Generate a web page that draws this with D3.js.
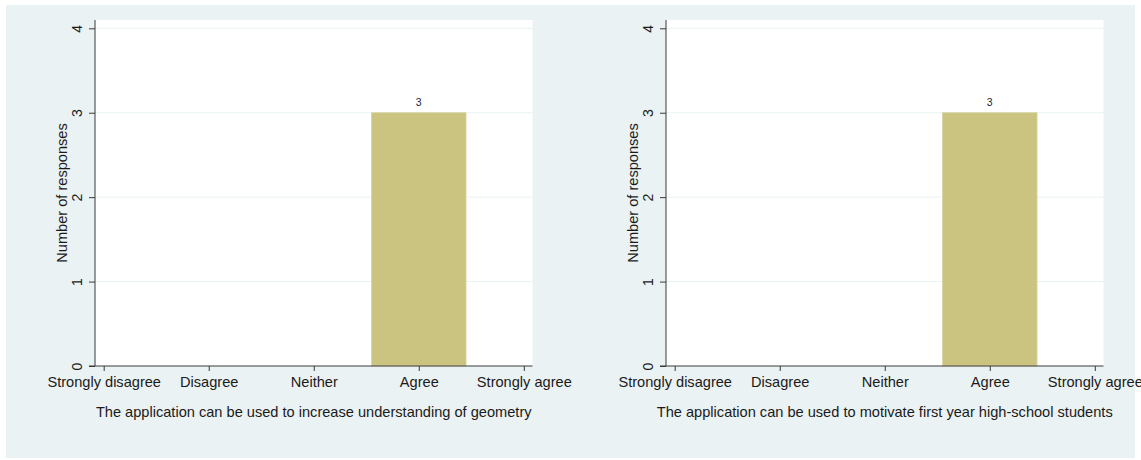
<!DOCTYPE html>
<html>
<head>
<meta charset="utf-8">
<script src="https://cdn.jsdelivr.net/npm/d3@7"></script>
<style>
  html, body { margin: 0; padding: 0; background: #ffffff; }
  svg { display: block; }
  text { font-family: "Liberation Sans", Arial, sans-serif; fill: #1a1a1a; }
</style>
</head>
<body>
<svg id="chart" width="1141" height="460"></svg>
<script>
// Likert categories, in axis order
const categories = ["Strongly disagree", "Disagree", "Neither", "Agree", "Strongly agree"];
const categoryCodes = [1, 2, 3, 4, 5];

// Number of responses per category for each statement
const countsGeometry = [0, 0, 0, 3, 0];
const countsMotivate = [0, 0, 0, 3, 0];

const statementTitles = [
  "The application can be used to increase understanding of geometry",
  "The application can be used to motivate first year high-school students"
];

const yTicks = [0, 1, 2, 3, 4];

const panels = [
  { left: 95, counts: countsGeometry, title: statementTitles[0] },
  { left: 666, counts: countsMotivate, title: statementTitles[1] }
];

const svg = d3.select("#chart");

// overall graph region
svg.append("rect")
  .attr("x", 6).attr("y", 5)
  .attr("width", 1129).attr("height", 453)
  .attr("fill", "#eaf2f3");

const plotW = 437.5, plotTop = 20, plotBottom = 366;
const pad = 8.7;
const labelFont = "14.6px";

const y = d3.scaleLinear().domain([0, 4]).range([plotBottom, 28.3]);

panels.forEach(p => {
  const g = svg.append("g");
  const x = d3.scaleLinear().domain([1, 5]).range([p.left + pad, p.left + plotW - pad]);
  const step = x(2) - x(1);
  const barW = step * 0.9;

  // plot region
  g.append("rect")
    .attr("x", p.left).attr("y", plotTop)
    .attr("width", plotW).attr("height", plotBottom - plotTop)
    .attr("fill", "#ffffff");

  // horizontal grid
  g.selectAll("line.grid").data(yTicks.filter(v => v > 0))
    .join("line")
    .attr("class", "grid")
    .attr("x1", p.left).attr("x2", p.left + plotW)
    .attr("y1", d => y(d)).attr("y2", d => y(d))
    .attr("stroke", "#eaf2f3").attr("stroke-width", 1);

  // bars
  const rows = categoryCodes.map((c, i) => ({ code: c, label: categories[i], n: p.counts[i] }));
  g.selectAll("rect.bar").data(rows.filter(d => d.n > 0))
    .join("rect")
    .attr("class", "bar")
    .attr("x", d => x(d.code) - barW / 2)
    .attr("width", barW)
    .attr("y", d => y(d.n))
    .attr("height", d => y(0) - y(d.n))
    .attr("fill", "#cbc380")
    .attr("stroke", "#d9d3a0").attr("stroke-width", 0.8);

  // value labels
  g.selectAll("text.val").data(rows.filter(d => d.n > 0))
    .join("text")
    .attr("class", "val")
    .attr("x", d => x(d.code))
    .attr("y", d => y(d.n) - 7)
    .attr("text-anchor", "middle")
    .style("font-size", "10.5px")
    .style("fill", "#1c2340")
    .text(d => d.n);

  // y axis
  const yAxis = d3.axisLeft(y).tickValues(yTicks).tickSize(6).tickPadding(0).tickFormat(d3.format("d"));
  const ya = g.append("g").attr("transform", `translate(${p.left},0)`).call(yAxis);
  ya.select(".domain").attr("d", `M-0,${plotTop}V${plotBottom}`).attr("stroke", "#3a3a3a");
  ya.selectAll(".tick line").attr("stroke", "#3a3a3a");
  ya.selectAll(".tick text")
    .attr("x", null).attr("dy", null)
    .attr("transform", "translate(-13,0) rotate(-90)")
    .attr("text-anchor", "middle")
    .style("font-size", "14px")
    .style("font-family", "'Liberation Sans', Arial, sans-serif")
    .style("fill", "#1a1a1a");

  // x axis
  const xAxis = d3.axisBottom(x).tickValues(categoryCodes).tickSize(5).tickPadding(0)
    .tickFormat((d, i) => categories[i]);
  const xa = g.append("g").attr("transform", `translate(0,${plotBottom})`).call(xAxis);
  xa.select(".domain").attr("d", `M${p.left - 6},0H${p.left + plotW}`).attr("stroke", "#3a3a3a");
  xa.selectAll(".tick line").attr("stroke", "#3a3a3a");
  xa.selectAll(".tick text")
    .attr("y", 21).attr("dy", null)
    .style("font-size", labelFont)
    .style("font-family", "'Liberation Sans', Arial, sans-serif")
    .style("fill", "#1a1a1a");

  // axis titles
  g.append("text")
    .attr("transform", `translate(${p.left - 28},${(plotTop + plotBottom) / 2}) rotate(-90)`)
    .attr("text-anchor", "middle")
    .style("font-size", labelFont)
    .text("Number of responses");

  g.append("text")
    .attr("x", p.left + plotW / 2)
    .attr("y", 417)
    .attr("text-anchor", "middle")
    .style("font-size", labelFont)
    .text(p.title);
});
</script>
</body>
</html>
